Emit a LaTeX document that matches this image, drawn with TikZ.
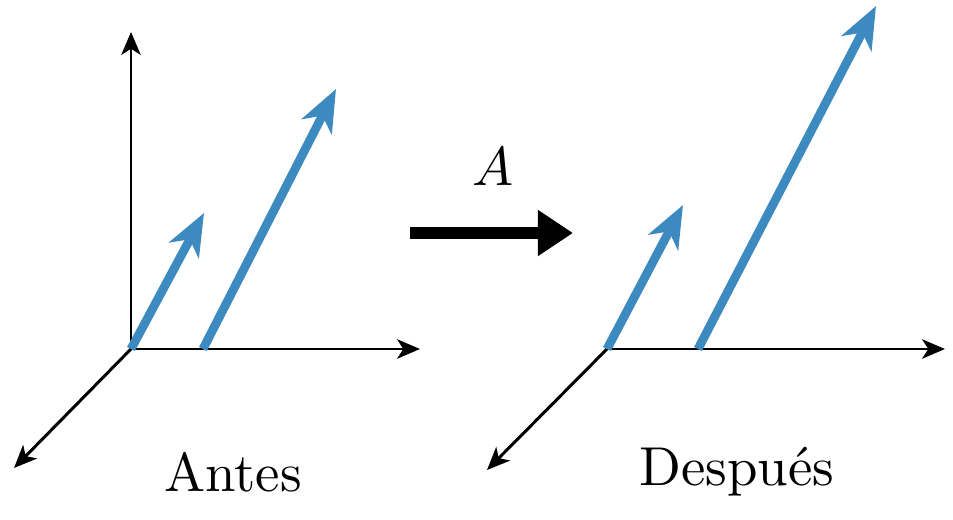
\documentclass[tikz,border=0pt]{standalone}
\usetikzlibrary{arrows.meta, positioning}
\definecolor{VecBlue}{RGB}{60,138,192}
\newcommand{\bigtxt}[1]{\scalebox{3.12}{#1}}

\begin{document}
\begin{tikzpicture}[
          x=0.02cm, y=-0.02cm,
          axis/.style={black, line width=1.7pt, -{Stealth[length=13pt, width=11pt, inset=3.5pt]}},
          vec/.style={VecBlue, line width=5pt, -{Stealth[length=24pt, width=19pt, inset=7pt]}},
          map/.style={black, line width=6.5pt, -{Triangle[length=20pt, width=25pt]}},
          caption/.style={inner sep=0pt}
        ]
          \useasboundingbox (0,0) rectangle (953,520);

          % antes
          \coordinate (o1) at (131,349);
          \coordinate (z1) at (131,32);
          \coordinate (x1) at (420,349);
          \coordinate (y1) at (14,468);
          \coordinate (b1) at (203,349);
          \coordinate (u1) at (204,213);
          \coordinate (v1) at (336,89);

          \draw[axis] (o1) -- (z1);
          \draw[axis] (o1) -- (x1);
          \draw[axis] (o1) -- (y1);
          \draw[vec] (o1) -- (u1);
          \draw[vec] (b1) -- (v1);
          \node (antes) [caption] at (233,472) {\bigtxt{Antes}};

          % transformacion
          \coordinate (m0) at (410,233);
          \coordinate (m1) at (573,233);
          \draw[map] (m0) -- (m1);
          \node (lbl) [caption] at (493,167) {\bigtxt{$A$}};

          % despues
          \coordinate (o2) at (607,349);
          \coordinate (x2) at (945,349);
          \coordinate (y2) at (487,470);
          \coordinate (b2) at (698,349);
          \coordinate (u2) at (683,205);
          \coordinate (v2) at (876,6);

          \draw[axis] (o2) -- (x2);
          \draw[axis] (o2) -- (y2);
          \draw[vec] (o2) -- (u2);
          \draw[vec] (b2) -- (v2);
          \node (despues) [caption] at (737,472) {\bigtxt{Después}};
        \end{tikzpicture}
\end{document}
